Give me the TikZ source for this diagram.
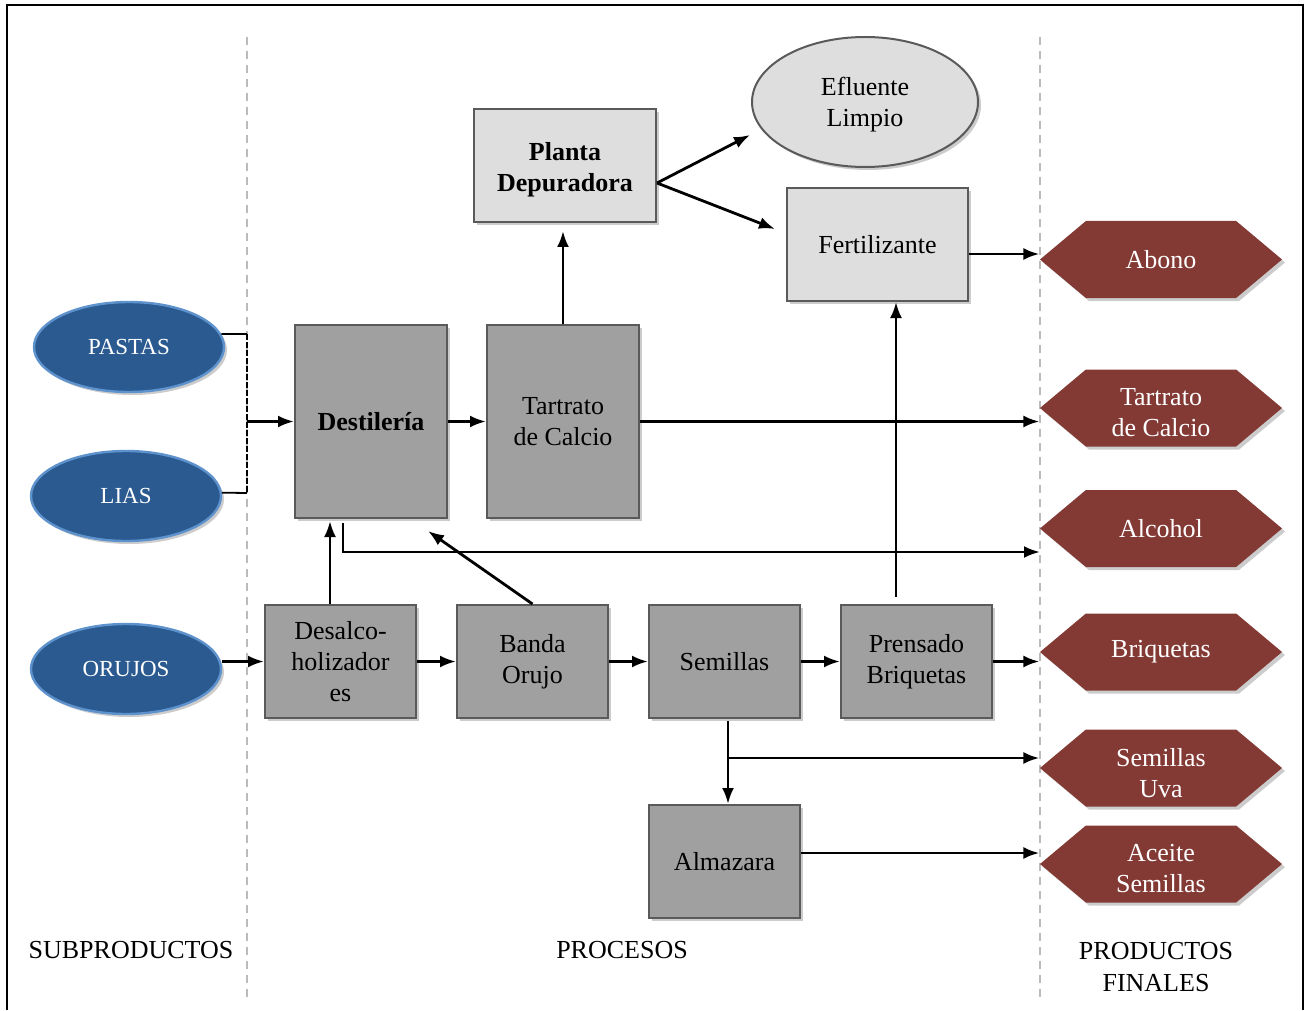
\documentclass[tikz,border=0pt]{standalone}
\usepackage{fontspec}
\setmainfont{Liberation Serif}
\usetikzlibrary{shapes.geometric,shapes.symbols,shadows,arrows.meta,calc}
\definecolor{boxgray}{HTML}{A0A0A0}
\definecolor{edgegray}{HTML}{5A5A5A}
\definecolor{lightbox}{HTML}{DEDEDE}
\definecolor{hexred}{HTML}{833A35}
\definecolor{bluefill}{HTML}{2A5A8F}
\definecolor{blueedge}{HTML}{5E92CC}
\definecolor{dashgray}{HTML}{BBBBBB}
\tikzset{
  mainfont/.style={font=\fontsize{13}{15.5}\selectfont},
  myshadow/.style={drop shadow={shadow xshift=1.5pt,shadow yshift=-1.5pt,fill=black,opacity=0.2}},
  proc/.style={draw=edgegray, line width=1pt, fill=boxgray, minimum width=76pt, minimum height=56.5pt,
    inner sep=2pt, align=center, mainfont, myshadow},
  tall/.style={minimum height=96.5pt},
  light/.style={draw=edgegray, line width=1pt, fill=lightbox, minimum width=91pt, minimum height=56.5pt,
    inner sep=2pt, align=center, mainfont, myshadow},
  hexa/.style={shape=signal, signal to=east and west, signal pointer angle=80, fill=hexred, draw=none,
    text=white, minimum width=121pt, minimum height=38.5pt, inner sep=0pt, align=center, mainfont, myshadow},
  intext/.style={align=center, mainfont, inner sep=0pt},
  src/.style={ellipse, fill=bluefill, draw=blueedge, line width=1.2pt, minimum width=95pt, minimum height=45pt,
    inner sep=0pt, text=white, font=\fontsize{11.5}{14}\selectfont, myshadow},
  arr/.style={line width=1.4pt, -{Latex[length=8pt,width=6pt]}},
  sep/.style={draw=dashgray, line width=0.75pt, dash pattern=on 4pt off 3pt},
  lbl/.style={align=center, font=\fontsize{13}{16}\selectfont},
}
\begin{document}
\begin{tikzpicture}[x=0.5pt,y=-0.5pt]
\useasboundingbox (0,0) rectangle (1309,1010);
% frame
\draw[line width=1.2pt] (7,1010) -- (7,5) -- (1303,5) -- (1303,1010);
% separators
\draw[sep] (247,37) -- (247,1000);
\draw[sep] (1040,37) -- (1040,1000);

% sources
\node[src] (pastas) at (129,347) {PASTAS};
\node[src] (lias) at (126,496) {LIAS};
\node[src] (orujos) at (126,669) {ORUJOS};

% process boxes
\node[proc,tall] (dest) at (371,421.5) {\textbf{Destilería}};
\node[proc,tall] (tart) at (563,421.5) {Tartrato\\de Calcio};
\node[light] (planta) at (565,165.5) {};
\node[intext] (plantat) at (565,169.5) {\textbf{Planta}\\\textbf{Depuradora}};
\node[light,minimum width=90.5pt] (fert) at (877.5,244.5) {Fertilizante};
\node[ellipse, draw=edgegray, line width=1pt, fill=lightbox, minimum width=113pt, minimum height=65pt,
  inner sep=0pt, myshadow] (efl) at (865,102) {};
\node[intext] (eflt) at (865,105) {Efluente\\Limpio};
\node[proc,minimum width=75.5pt] (desal) at (340.5,661.5) {Desalco-\\holizador\\es};
\node[proc,minimum width=75.5pt] (banda) at (532.5,661.5) {Banda\\Orujo};
\node[proc,minimum width=75.5pt] (semi) at (724.5,661.5) {Semillas};
\node[proc,minimum width=75.5pt] (prens) at (916.5,661.5) {Prensado\\Briquetas};
\node[proc,minimum width=75.5pt] (alma) at (724.5,861.5) {Almazara};

% products
\node[hexa] (abono) at (1161,259.5) {Abono};
\node[hexa] (tcal) at (1161,408) {};
\node[intext,text=white] (tcalt) at (1161,413) {Tartrato\\de Calcio};
\node[hexa] (alco) at (1161,528.5) {Alcohol};
\node[hexa] (briq) at (1161,652) {Briquetas};
\node[hexa] (suva) at (1161,768) {};
\node[intext,text=white] (suvat) at (1161,773) {Semillas\\Uva};
\node[hexa] (acei) at (1161,864) {};
\node[intext,text=white] (aceit) at (1161,869) {Aceite\\Semillas};

% column labels
\node[lbl] (l1) at (131,950) {SUBPRODUCTOS};
\node[lbl] (l2) at (622,950) {PROCESOS};
\node[lbl,anchor=north] (l3) at (1156,935) {PRODUCTOS\\FINALES};

% bracket pastas/lias
\coordinate (bt) at (247,334);
\coordinate (bb) at (247,493);
\draw[line width=0.9pt] (pastas.8) -- (bt);
\draw[line width=0.9pt] (lias.2) -- (bb);
\draw[line width=0.9pt, dash pattern=on 3pt off 1pt] (bt) -- (bb);
\draw[arr] (bt |- dest.west) -- (dest.west);

% connectors
\draw[arr] (dest.east) -- (tart.west);
\draw[arr] (tart.north) -- ([yshift=-4pt]tart.north |- planta.south);
\coordinate (e1) at (750,135);
\coordinate (f1) at (775,229);
\draw[arr] ([yshift=-8.75pt]planta.east) -- (e1);
\draw[arr] ([yshift=-8.75pt]planta.east) -- (f1);
\draw[arr] ([yshift=-4.75pt]fert.east) -- ([yshift=-4.75pt]fert.east -| abono.west);
\draw[arr] (tart.east) -- (tart.east -| tcal.west);
\coordinate (alin) at (1040,552);
\draw[arr] ([xshift=-14pt,yshift=-2pt]dest.south) |- (alin);
\draw[arr] ([xshift=-5.25pt]desal.north) -- ([xshift=-5.25pt,yshift=-1pt]desal.north |- dest.south);
\draw[arr] (banda.north) -- ([xshift=-10pt,yshift=-6pt]dest.south east);
\draw[arr] (orujos.east |- desal.west) -- (desal.west);
\draw[arr] (desal.east) -- (banda.west);
\draw[arr] (banda.east) -- (semi.west);
\draw[arr] (semi.east) -- (prens.west);
\draw[arr] (prens.east) -- (prens.east -| briq.west);
\draw[arr] ([xshift=-10.25pt,yshift=3.5pt]prens.north) -- ([xshift=-10.25pt]prens.north |- fert.south);
\draw[arr] ([xshift=1.75pt,yshift=-1pt]semi.south) -- ([xshift=1.75pt]alma.north);
\coordinate (br) at (728,758);
\draw[arr] (br) -- (br -| suva.west);
\draw[arr] ([yshift=4.25pt]alma.east) -- ([yshift=4.25pt]alma.east -| acei.west);
\end{tikzpicture}
\end{document}
